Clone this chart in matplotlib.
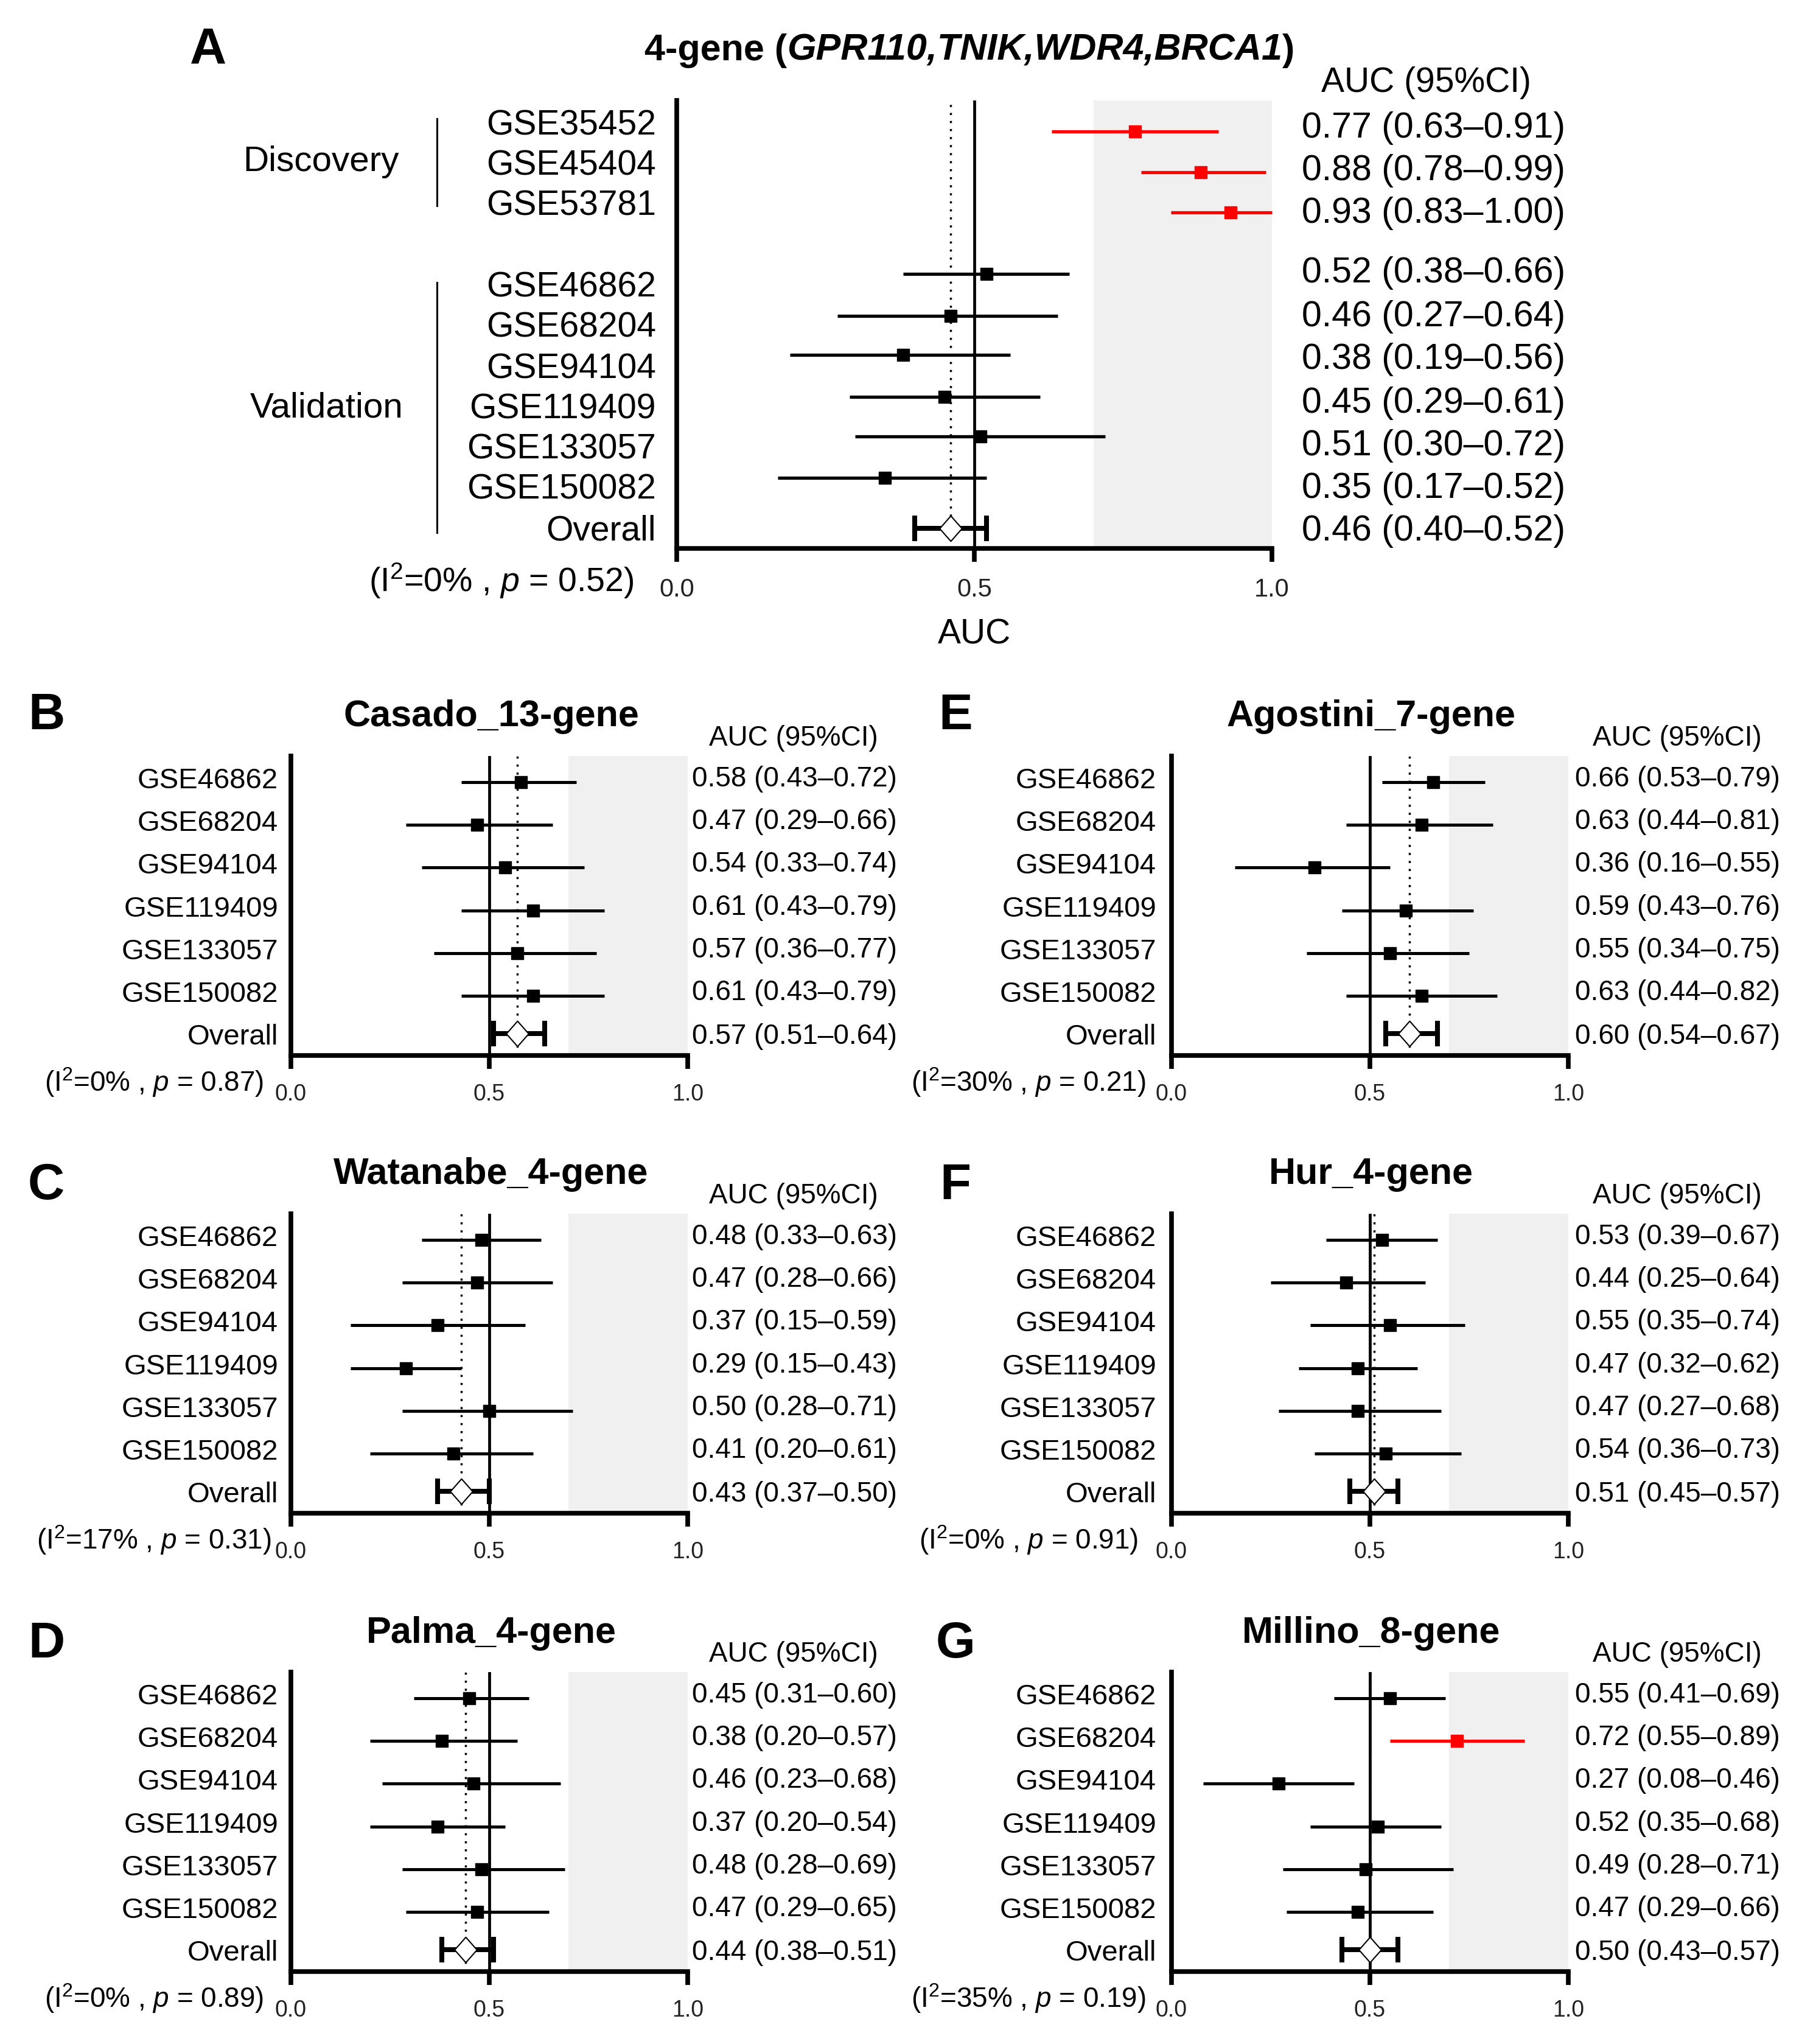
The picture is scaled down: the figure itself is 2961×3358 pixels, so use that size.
import matplotlib
matplotlib.use("Agg")
import matplotlib.pyplot as plt
import numpy as np
from matplotlib.path import Path
from matplotlib.lines import Line2D

plt.rcParams['font.family'] = ['Liberation Sans', 'DejaVu Sans']
plt.rcParams['mathtext.fontset'] = 'custom'
plt.rcParams['mathtext.rm'] = 'Liberation Sans'
plt.rcParams['mathtext.it'] = 'Liberation Sans:italic'
plt.rcParams['mathtext.bf'] = 'Liberation Sans:bold'

# ---- data ----
a_studies = ["GSE35452", "GSE45404", "GSE53781", "GSE46862", "GSE68204",
             "GSE94104", "GSE119409", "GSE133057", "GSE150082"]
a_auc = [0.77, 0.88, 0.93, 0.52, 0.46, 0.38, 0.45, 0.51, 0.35]
a_lo = [0.63, 0.78, 0.83, 0.38, 0.27, 0.19, 0.29, 0.30, 0.17]
a_hi = [0.91, 0.99, 1.00, 0.66, 0.64, 0.56, 0.61, 0.72, 0.52]
a_overall = [0.46, 0.40, 0.52]
a_het = ["0", "0.52"]

studies = ["GSE46862", "GSE68204", "GSE94104", "GSE119409", "GSE133057", "GSE150082"]

casado_auc = [0.58, 0.47, 0.54, 0.61, 0.57, 0.61]
casado_lo = [0.43, 0.29, 0.33, 0.43, 0.36, 0.43]
casado_hi = [0.72, 0.66, 0.74, 0.79, 0.77, 0.79]
casado_overall = [0.57, 0.51, 0.64]
casado_het = ["0", "0.87"]

watanabe_auc = [0.48, 0.47, 0.37, 0.29, 0.50, 0.41]
watanabe_lo = [0.33, 0.28, 0.15, 0.15, 0.28, 0.20]
watanabe_hi = [0.63, 0.66, 0.59, 0.43, 0.71, 0.61]
watanabe_overall = [0.43, 0.37, 0.50]
watanabe_het = ["17", "0.31"]

palma_auc = [0.45, 0.38, 0.46, 0.37, 0.48, 0.47]
palma_lo = [0.31, 0.20, 0.23, 0.20, 0.28, 0.29]
palma_hi = [0.60, 0.57, 0.68, 0.54, 0.69, 0.65]
palma_overall = [0.44, 0.38, 0.51]
palma_het = ["0", "0.89"]

agostini_auc = [0.66, 0.63, 0.36, 0.59, 0.55, 0.63]
agostini_lo = [0.53, 0.44, 0.16, 0.43, 0.34, 0.44]
agostini_hi = [0.79, 0.81, 0.55, 0.76, 0.75, 0.82]
agostini_overall = [0.60, 0.54, 0.67]
agostini_het = ["30", "0.21"]

hur_auc = [0.53, 0.44, 0.55, 0.47, 0.47, 0.54]
hur_lo = [0.39, 0.25, 0.35, 0.32, 0.27, 0.36]
hur_hi = [0.67, 0.64, 0.74, 0.62, 0.68, 0.73]
hur_overall = [0.51, 0.45, 0.57]
hur_het = ["0", "0.91"]

millino_auc = [0.55, 0.72, 0.27, 0.52, 0.49, 0.47]
millino_lo = [0.41, 0.55, 0.08, 0.35, 0.28, 0.29]
millino_hi = [0.69, 0.89, 0.46, 0.68, 0.71, 0.66]
millino_overall = [0.50, 0.43, 0.57]
millino_het = ["35", "0.19"]

# ---- layout (pixels) ----
W, H = 2961, 3358
fig = plt.figure(figsize=(W / 100, H / 100), dpi=100)


def fx(px):
    return px / W


def fy(py):
    return 1 - py / H


diamond = Path([(0, 1), (0.88, 0), (0, -1), (-0.88, 0), (0, 1)],
               [Path.MOVETO, Path.LINETO, Path.LINETO, Path.LINETO, Path.CLOSEPOLY])


def fmt_ci(a, lo, hi):
    return f"{a:.2f} ({lo:.2f}\u2013{hi:.2f})"


def draw_forest(x0, x1, top, height, rows, ov_row, auc, lo, hi, overall,
                ms=14, elw=3.6, tick_fs=27, pad=17):
    ax = fig.add_axes([fx(x0), fy(top + height), fx(x1 - x0), height / H])
    ax.set_xlim(0, 1)
    ax.set_ylim(height, 0)
    ax.axvspan(0.7, 1.0, color='#f0f0f0', lw=0, zorder=0)
    ax.axvline(0.5, color='k', lw=3.4, zorder=1)
    ax.axvline(overall[0], color='k', lw=2.5, ls=(0, (1, 2.8)), zorder=1)
    for y, a, l, h in zip(rows, auc, lo, hi):
        c = '#ff0000' if a >= 0.7 else 'k'
        ax.errorbar(a, y, xerr=[[a - l], [h - a]], fmt='s', color=c, ms=ms,
                    elinewidth=elw, capsize=0, clip_on=False, zorder=3)
    o, ol, oh = overall
    ax.errorbar(o, ov_row, xerr=[[o - ol], [oh - o]], fmt='none', ecolor='k',
                elinewidth=5.8, capsize=15, capthick=5.8, zorder=3)
    ax.plot(o, ov_row, marker=diamond, ms=30, mfc='white', mec='k', mew=1.5,
            ls='none', zorder=4)
    for s in ['top', 'right']:
        ax.spines[s].set_visible(False)
    ax.spines['left'].set_linewidth(5.5)
    ax.spines['bottom'].set_linewidth(5.5)
    ax.set_yticks([])
    ax.set_xticks([0, 0.5, 1.0])
    ax.set_xticklabels(["0.0", "0.5", "1.0"])
    ax.tick_params(axis='x', direction='out', length=16, width=5.5,
                   labelsize=tick_fs, pad=pad, labelcolor='#222222')
    ax.patch.set_alpha(0)
    return ax


# ---- panel A ----
A_top, A_h = 165, 736
A_rows = [51, 118, 184, 285, 354, 418, 487, 552, 620]
A_ov = 703
A_label_y = [41, 107, 174, 307, 374, 441, 507, 574, 640]
A_text_y = [45, 115, 186, 284, 356, 426, 497, 568, 637]

axA = draw_forest(1112, 2090, A_top, A_h, A_rows, A_ov, a_auc, a_lo, a_hi,
                  a_overall, ms=14, elw=3.8, tick_fs=30, pad=18.5)
axA.set_xlabel("AUC", fontsize=41, labelpad=19)

for name, y in zip(a_studies + ["Overall"], A_label_y + [A_ov + 4]):
    fig.text(fx(1078), fy(A_top + y), name, ha='right', va='center', fontsize=41)
for a, l, h, y in zip(a_auc + [a_overall[0]], a_lo + [a_overall[1]],
                      a_hi + [a_overall[2]], A_text_y + [A_ov + 5]):
    fig.text(fx(2139), fy(A_top + y), fmt_ci(a, l, h), ha='left', va='center',
             fontsize=42.5)
fig.text(fx(2343), fy(136), "AUC (95%CI)", ha='center', va='center', fontsize=41)
fig.text(fx(342), fy(82), "A", ha='center', va='center', fontsize=60,
         fontweight='bold')
fig.text(fx(528), fy(266), "Discovery", ha='center', va='center', fontsize=42)
fig.text(fx(537), fy(670), "Validation", ha='center', va='center', fontsize=42)
fig.add_artist(Line2D([fx(718), fx(718)], [fy(195), fy(338)], color='k', lw=2.2))
fig.add_artist(Line2D([fx(718), fx(718)], [fy(464), fy(875)], color='k', lw=2.2))
fig.text(fx(824), fy(954), r"(I$^2$=" + a_het[0] + r"% , $p$ = " + a_het[1] + ")",
         ha='center', va='center', fontsize=40)

t1 = fig.text(fx(1059), fy(83), "4-gene (", ha='left', va='center',
              fontsize=44, fontweight='bold')
t2 = axA.annotate("GPR110,TNIK,WDR4,BRCA1", xy=(1, 0), xycoords=t1,
                  ha='left', va='bottom', fontsize=44, fontweight='bold',
                  fontstyle='italic', annotation_clip=False)
axA.annotate(")", xy=(1, 0), xycoords=t2, ha='left', va='bottom',
             fontsize=44, fontweight='bold', annotation_clip=False)

# ---- panels B-G ----
small_h = 492
small_rows = [43 + 70.2 * i for i in range(6)]
small_ov = 456

columns = {
    'left': dict(x0=478, x1=1130, lab=457, txt=1137, hdr=1304, title=807,
                 letter=76, het=253),
    'right': dict(x0=1925, x1=2577, lab=1900, txt=2588, hdr=2756, title=2253,
                  letter=1570, het=1690),
}
row_tops = [1242, 1994, 2747]

panels = [
    ("B", "Casado_13-gene", 'left', 0, casado_auc, casado_lo, casado_hi, casado_overall, casado_het),
    ("C", "Watanabe_4-gene", 'left', 1, watanabe_auc, watanabe_lo, watanabe_hi, watanabe_overall, watanabe_het),
    ("D", "Palma_4-gene", 'left', 2, palma_auc, palma_lo, palma_hi, palma_overall, palma_het),
    ("E", "Agostini_7-gene", 'right', 0, agostini_auc, agostini_lo, agostini_hi, agostini_overall, agostini_het),
    ("F", "Hur_4-gene", 'right', 1, hur_auc, hur_lo, hur_hi, hur_overall, hur_het),
    ("G", "Millino_8-gene", 'right', 2, millino_auc, millino_lo, millino_hi, millino_overall, millino_het),
]

for letter, title, col, r, auc, lo, hi, overall, het in panels:
    c = columns[col]
    T = row_tops[r]
    draw_forest(c['x0'], c['x1'], T, small_h, small_rows, small_ov,
                auc, lo, hi, overall)
    for name, y in zip(studies, small_rows):
        fig.text(fx(c['lab']), fy(T + y - 2), name, ha='right', va='center',
                 fontsize=34)
    fig.text(fx(c['lab']), fy(T + small_ov + 6), "Overall", ha='right',
             va='center', fontsize=34)
    for a, l, h, y in zip(auc, lo, hi, small_rows):
        fig.text(fx(c['txt']), fy(T + y - 5), fmt_ci(a, l, h), ha='left',
                 va='center', fontsize=33)
    fig.text(fx(c['txt']), fy(T + small_ov + 5), fmt_ci(*overall), ha='left',
             va='center', fontsize=33)
    fig.text(fx(c['hdr']), fy(T - 29), "AUC (95%CI)", ha='center',
             va='center', fontsize=33)
    fig.text(fx(c['title']), fy(T - 64), title, ha='center', va='center',
             fontsize=44, fontweight='bold')
    ly = T - 66 if r == 0 else T - 46
    fig.text(fx(c['letter']), fy(ly), letter, ha='center', va='center',
             fontsize=60, fontweight='bold')
    fig.text(fx(c['het']), fy(T + small_h + 44),
             r"(I$^2$=" + het[0] + r"% , $p$ = " + het[1] + ")",
             ha='center', va='center', fontsize=33)

fig.savefig("out.png", dpi=100, facecolor='white')
